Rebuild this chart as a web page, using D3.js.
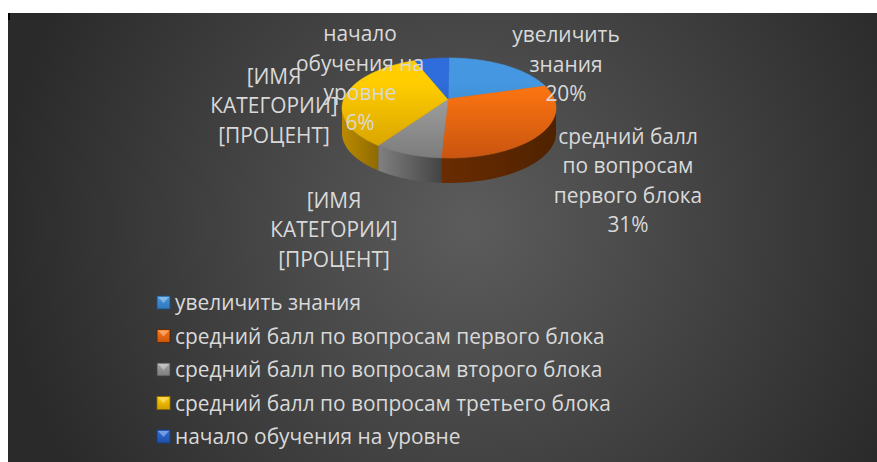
<!DOCTYPE html>
<html><head><meta charset="utf-8">
<style>html,body{margin:0;padding:0;background:#fff}svg{display:block}text{font-family:"Open Sans","Noto Sans",sans-serif}</style>
<script src="https://cdn.jsdelivr.net/npm/d3@7"></script>
</head><body><div id="c"></div>
<script>
const categories=["увеличить знания","средний балл по вопросам первого блока","средний балл по вопросам второго блока","средний балл по вопросам третьего блока","начало обучения на уровне"];
const values=[20,31,9,34,6];
const topLight=["#4497e0","#ff7610","#a6a6a6","#ffcd00","#2f6ddc"];
const topDark=["#2f78bb","#c95510","#7c7c7c","#d29e00","#1f4fa8"];
const sideLight=["#2f6a9e","#6a2c02","#808080","#bb8a00","#1f4fa8"];
const sideDark=["#1f4f7a","#4f2200","#444444","#8e6a00","#173c80"];
const labelLines=[["увеличить","знания","20%"],["средний балл","по вопросам","первого блока","31%"],["[ИМЯ","КАТЕГОРИИ]","[ПРОЦЕНТ]"],["[ИМЯ","КАТЕГОРИИ]","[ПРОЦЕНТ]"],["начало","обучения на","уровне","6%"]];
const labelCentres=[[566,64.5],[628,181],[334,230],[274,106],[360,78.5]];

const W=877,H=462,cx=449,cy=108,rx=107,ry=50,depth=25,k=0.86,apexY=99;
const svg=d3.select("#c").append("svg").attr("width",W).attr("height",H);
const defs=svg.append("defs");
const bg=defs.append("radialGradient").attr("id","bg").attr("gradientUnits","userSpaceOnUse")
 .attr("cx",470).attr("cy",225).attr("r",470);
bg.append("stop").attr("offset",0).attr("stop-color","#5c5c5c");
bg.append("stop").attr("offset",1).attr("stop-color","#2a2a2a");
svg.append("rect").attr("x",8).attr("y",13).attr("width",W-8).attr("height",H-13).attr("fill","url(#bg)");
svg.append("rect").attr("x",8).attr("y",13).attr("width",2).attr("height",7).attr("fill","#000");

categories.forEach((c,i)=>{
 const g=defs.append("linearGradient").attr("id","t"+i).attr("gradientUnits","userSpaceOnUse").attr("x1",0).attr("x2",0).attr("y1",cy-ry).attr("y2",cy+ry);
 g.append("stop").attr("offset",0.25).attr("stop-color",topLight[i]);
 g.append("stop").attr("offset",1).attr("stop-color",topDark[i]);
 const s=defs.append("linearGradient").attr("id","s"+i).attr("x1",0).attr("x2",1).attr("y1",0).attr("y2",0);
 s.append("stop").attr("offset",0).attr("stop-color",sideLight[i]);
 s.append("stop").attr("offset",1).attr("stop-color",sideDark[i]);
 const l=defs.append("linearGradient").attr("id","l"+i).attr("x1",0).attr("x2",0).attr("y1",0).attr("y2",1);
 l.append("stop").attr("offset",0).attr("stop-color",topLight[i]);
 l.append("stop").attr("offset",1).attr("stop-color",topDark[i]);
});

const arcs=d3.pie().sort(null).value(d=>d)(values);
// perspective: true pie angle -> angle on the projected ellipse
const proj=a=>{const n=Math.round(a/(2*Math.PI));const r=a-n*2*Math.PI;return 2*Math.atan(k*Math.tan(r/2))+n*2*Math.PI;};
const pt=(t,dy=0)=>[cx+rx*Math.sin(t),cy-ry*Math.cos(t)+dy];
const samples=(a,b)=>d3.range(0,41).map(i=>a+(b-a)*i/40);

const line=d3.line();
// side walls (front half only)
arcs.forEach((d,i)=>{
 const a=Math.max(proj(d.startAngle),Math.PI/2),b=Math.min(proj(d.endAngle),3*Math.PI/2);
 if(b<=a)return;
 const s=samples(a,b);
 const pts=s.map(t=>pt(t)).concat(s.slice().reverse().map(t=>pt(t,depth)));
 svg.append("path").attr("d",line(pts)+"Z").attr("fill",`url(#s${i})`);
});
// top faces
arcs.forEach((d,i)=>{
 const s=samples(proj(d.startAngle),proj(d.endAngle));
 const pts=[[cx-1,apexY]].concat(s.map(t=>pt(t)));
 svg.append("path").attr("d",line(pts)+"Z").attr("fill",`url(#t${i})`).attr("stroke",`url(#t${i})`).attr("stroke-width",0.6);
});
// data labels
const lh=29.5;
labelLines.forEach((ls,i)=>{
 const [x,y]=labelCentres[i];
 const t=svg.append("text").attr("text-anchor","middle").attr("fill","#d9d9d9").attr("font-size",20.9);
 ls.forEach((s,j)=>t.append("tspan").attr("x",x).attr("y",y-(ls.length-1)*lh/2+j*lh+7).text(s));
});
// legend
const ly=d3.scalePoint().domain(categories).range([303,437]);
categories.forEach((c,i)=>{
 const y=ly(c);
 svg.append("rect").attr("x",157).attr("y",y-7).attr("width",13).attr("height",13).attr("fill",`url(#l${i})`).attr("stroke",sideDark[i]).attr("stroke-width",0.8);
 svg.append("path").attr("d",d3.line()([[158,y-6],[169,y-6],[163.5,y]])+"Z").attr("fill","#fff").attr("opacity",.35);
 svg.append("text").attr("x",175).attr("y",y+7).attr("fill","#d9d9d9").attr("font-size",20.9).text(c);
});
</script></body></html>
